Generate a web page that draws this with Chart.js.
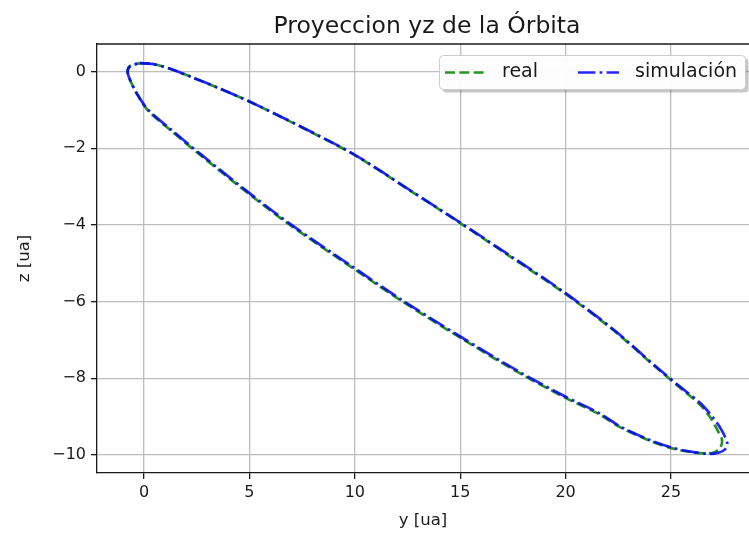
<!DOCTYPE html>
<html lang="es">
<head>
<meta charset="UTF-8" />
<title>Proyeccion yz de la Órbita</title>
<script src="https://cdn.jsdelivr.net/npm/chart.js"></script>
<style>
  body { margin: 0; background: #fff; overflow: hidden; }
  canvas { display: block; }
</style>
</head>
<body>
<canvas id="orbitChart" width="749" height="539"></canvas>
<script>
  // órbita proyectada en el plano yz, en ua (recorrida desde el punto más alto)
  const yReal = [-0.2, 0.4, 1.2, 2.2, 3.5, 5.0, 7.5, 10.0, 12.5, 15.0, 17.5, 20.0, 22.3, 24.3, 25.5, 26.4,
    26.9, 27.2, 27.42, 27.35, 27.1, 26.8, 26.0, 25.0, 24.0, 22.6, 21.6, 20.0, 17.8, 15.0, 12.1, 10.0,
    7.0, 5.0, 2.7, 1.3, 0.2, -0.35, -0.66, -0.78, -0.65, -0.2];
  const zReal = [0.22, 0.2, 0.08, -0.13, -0.42, -0.78, -1.46, -2.18, -3.06, -3.95, -4.87, -5.8, -6.76, -7.72, -8.28, -8.7,
    -9.05, -9.35, -9.6, -9.8, -9.92, -9.96, -9.93, -9.82, -9.63, -9.28, -8.94, -8.51, -7.86, -6.94, -5.94, -5.16,
    -4.03, -3.2, -2.19, -1.55, -1.02, -0.57, -0.22, 0.0, 0.15, 0.22];

  const ySim = [-0.2, 0.4, 1.2, 2.2, 3.5, 5.0, 7.5, 10.0, 12.5, 15.0, 17.5, 20.0, 22.3, 24.3, 25.5, 26.4,
    27.0, 27.4, 27.67, 27.55, 27.25, 26.85, 26.0, 25.0, 24.0, 22.6, 21.6, 20.0, 17.8, 15.0, 12.1, 10.0,
    7.0, 5.0, 2.7, 1.3, 0.2, -0.35, -0.66, -0.78, -0.65, -0.2];
  const zSim = [0.22, 0.2, 0.08, -0.13, -0.42, -0.78, -1.45, -2.17, -3.05, -3.94, -4.85, -5.78, -6.74, -7.7, -8.25, -8.65,
    -9.03, -9.35, -9.7, -9.86, -9.94, -9.97, -9.92, -9.8, -9.61, -9.26, -8.91, -8.48, -7.83, -6.91, -5.91, -5.13,
    -4.0, -3.17, -2.16, -1.52, -1.0, -0.56, -0.22, 0.0, 0.15, 0.22];

  const yTicks = [0, 5, 10, 15, 20, 25];
  const zTicks = [0, -2, -4, -6, -8, -10];
  const yLimits = [-2.23, 28.7];
  const zLimits = [-10.47, 0.72];

  const FONT = '"DejaVu Sans", Verdana, sans-serif';
  const INK = '#1a1a1a';
  const toPoints = (ys, zs) => ys.map((y, i) => ({ x: y, y: zs[i] }));
  const minus = v => String(v).replace('-', '\u2212');

  // título, borde superior y leyenda (estilo matplotlib)
  const decor = {
    id: 'decor',
    afterDatasetsDraw(chart) {
      const { ctx, chartArea: a } = chart;
      ctx.save();
      ctx.strokeStyle = INK;
      ctx.lineWidth = 1.3;
      ctx.beginPath();
      ctx.moveTo(a.left, a.top);
      ctx.lineTo(a.right, a.top);
      ctx.stroke();
      ctx.restore();
    },
    afterDraw(chart) {
      const ctx = chart.ctx;
      ctx.save();
      ctx.fillStyle = INK;
      ctx.font = '23.5px ' + FONT;
      ctx.textAlign = 'center';
      ctx.textBaseline = 'alphabetic';
      ctx.fillText('Proyeccion yz de la Órbita', 427, 33);

      // caja de la leyenda con sombra
      const bx = 439.5, by = 55.5, bw = 306, bh = 34;
      ctx.fillStyle = 'rgba(0,0,0,0.22)';
      ctx.beginPath();
      ctx.roundRect(bx + 3, by + 3, bw, bh, 4);
      ctx.fill();
      ctx.fillStyle = 'rgba(255,255,255,0.96)';
      ctx.strokeStyle = '#cccccc';
      ctx.lineWidth = 1;
      ctx.beginPath();
      ctx.roundRect(bx, by, bw, bh, 4);
      ctx.fill();
      ctx.stroke();

      const itemX = [445, 578];
      ctx.font = '19px ' + FONT;
      ctx.textAlign = 'left';
      ctx.textBaseline = 'middle';
      chart.data.datasets.forEach((ds, i) => {
        const x = itemX[i], y = 72.5;
        ctx.strokeStyle = ds.borderColor;
        ctx.lineWidth = ds.borderWidth;
        ctx.setLineDash(ds.borderDash);
        ctx.beginPath();
        ctx.moveTo(x, y);
        ctx.lineTo(x + 41, y);
        ctx.stroke();
        ctx.setLineDash([]);
        ctx.fillStyle = INK;
        ctx.fillText(ds.label, x + 57, y);
      });
      ctx.restore();
    }
  };

  new Chart(document.getElementById('orbitChart'), {
    type: 'scatter',
    data: {
      datasets: [
        {
          label: 'real',
          data: toPoints(yReal, zReal),
          showLine: true,
          borderColor: 'rgba(0,128,0,0.85)',
          borderWidth: 2.7,
          borderDash: [10, 4.3],
          pointRadius: 0,
          tension: 0.3,
          order: 1
        },
        {
          label: 'simulación',
          data: toPoints(ySim, zSim),
          showLine: true,
          borderColor: 'rgba(0,0,255,0.85)',
          borderWidth: 2.7,
          borderDash: [17.3, 4.3, 2.7, 4.3],
          pointRadius: 0,
          tension: 0.3,
          order: 0
        }
      ]
    },
    options: {
      responsive: false,
      animation: false,
      layout: { padding: { top: 44, left: 0, right: 0, bottom: 0 } },
      plugins: { legend: { display: false }, tooltip: { enabled: false } },
      scales: {
        x: {
          type: 'linear',
          min: yLimits[0],
          max: yLimits[1],
          afterBuildTicks: s => { s.ticks = yTicks.map(v => ({ value: v })); },
          afterFit: s => { s.height = 66; },
          grid: { color: '#bdbdbd', lineWidth: 1.3, tickColor: INK, tickLength: 6, tickWidth: 1.3 },
          border: { display: true, color: INK, width: 1.3 },
          ticks: { font: { family: FONT, size: 16 }, color: INK, padding: 4, maxRotation: 0, callback: v => minus(v) },
          title: { display: true, text: 'y [ua]', font: { family: FONT, size: 16.5 }, color: INK, padding: { bottom: 8 } }
        },
        y: {
          type: 'linear',
          min: zLimits[0],
          max: zLimits[1],
          afterBuildTicks: s => { s.ticks = zTicks.map(v => ({ value: v })); },
          afterFit: s => { s.width = 97; },
          grid: { color: '#bdbdbd', lineWidth: 1.3, tickColor: INK, tickLength: 6, tickWidth: 1.3 },
          border: { display: true, color: INK, width: 1.3 },
          ticks: { font: { family: FONT, size: 16 }, color: INK, padding: 5, callback: v => minus(v) },
          title: { display: true, text: 'z [ua]', font: { family: FONT, size: 16.5 }, color: INK, padding: { top: 15 } }
        }
      }
    },
    plugins: [decor]
  });
</script>
</body>
</html>
